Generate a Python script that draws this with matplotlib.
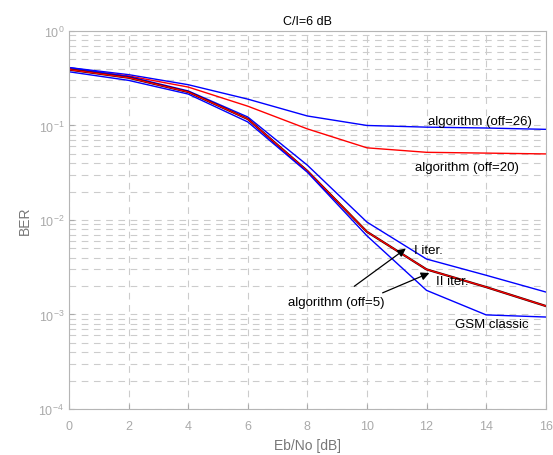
import matplotlib
matplotlib.use("Agg")
import matplotlib.pyplot as plt

plt.rcParams['font.family'] = ['Liberation Sans', 'DejaVu Sans']

ebno = [0, 2, 4, 6, 8, 10, 12, 14, 16]

off26 = [0.41, 0.345, 0.27, 0.19, 0.126, 0.10, 0.096, 0.094, 0.091]
off20 = [0.40, 0.334, 0.255, 0.16, 0.092, 0.058, 0.052, 0.051, 0.050]
iter1 = [0.41, 0.33, 0.232, 0.123, 0.038, 0.0095, 0.00386, 0.0026, 0.00173]
iter2 = [0.39, 0.32, 0.226, 0.117, 0.033, 0.0075, 0.0030, 0.00195, 0.00123]
gsm = [0.37, 0.30, 0.215, 0.109, 0.032, 0.0068, 0.0018, 0.00099, 0.00094]

grey = '#aaaaaa'

fig = plt.figure(figsize=(5.53, 4.56), dpi=100)
ax = fig.add_axes([0.1248, 0.1009, 0.862, 0.829])

ax.semilogy(ebno, off26, color='blue', lw=1)
ax.semilogy(ebno, off20, color='red', lw=1)
ax.semilogy(ebno, iter1, color='blue', lw=1)
ax.semilogy(ebno, iter2, color='#330000', lw=1.6)
ax.semilogy(ebno, iter2, color='red', lw=0.9)
ax.semilogy(ebno, gsm, color='blue', lw=1)

ax.set_xlim(0, 16)
ax.set_ylim(1e-4, 1)
ax.set_xticks(range(0, 17, 2))

ax.grid(True, which='major', ls=(0, (6, 5)), color='#cccccc', lw=0.8)
ax.grid(True, which='minor', axis='y', ls=(0, (6, 5)), color='#cccccc', lw=0.8)
ax.tick_params(which='both', direction='in', colors=grey, labelsize=9)
ax.tick_params(axis='x', pad=8)
ax.tick_params(which='minor', length=0)
for s in ax.spines.values():
    s.set_color('#b5b5b5')

ax.set_xlabel('Eb/No [dB]', color='#777777', fontsize=10)
ax.set_ylabel('BER', color='#777777', fontsize=10)
ax.yaxis.set_label_coords(-0.078, 0.5)
ax.set_title('C/I=6 dB', fontsize=9, pad=5)

ax.text(13.8, 0.111, 'algorithm (off=26)', ha='center', va='center', fontsize=9.5)
ax.text(13.36, 0.036, 'algorithm (off=20)', ha='center', va='center', fontsize=9.5)
ax.text(12.05, 0.0048, 'I iter.', ha='center', va='center', fontsize=9.5)
ax.text(12.85, 0.00226, 'II iter.', ha='center', va='center', fontsize=9.5)
ax.text(8.96, 0.00136, 'algorithm (off=5)', ha='center', va='center', fontsize=9.5)
ax.text(14.2, 0.00079, 'GSM classic', ha='center', va='center', fontsize=9.5)

arrow = dict(arrowstyle='-|>', color='black', lw=0.9, mutation_scale=12)
ax.annotate('', xy=(11.38, 0.00518), xytext=(9.5, 0.00191), arrowprops=arrow)
ax.annotate('', xy=(12.18, 0.00282), xytext=(10.44, 0.00165), arrowprops=arrow)

fig.savefig('out.png', dpi=100)
